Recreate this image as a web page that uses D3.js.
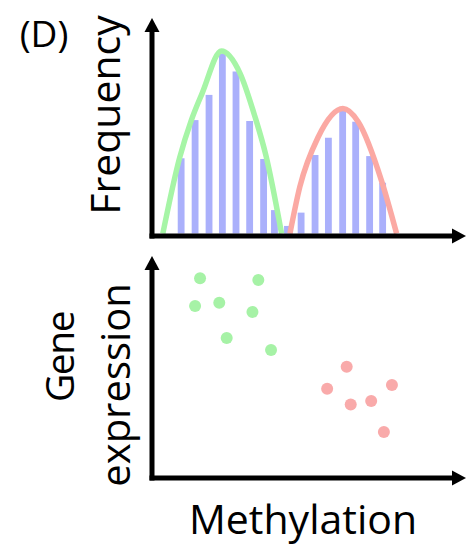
<!DOCTYPE html>
<html lang="en">
<head>
  <meta charset="UTF-8">
  <title>Methylation vs expression</title>
  <script src="https://d3js.org/d3.v7.min.js"></script>
  <style>
    body { margin: 0; background: #fff; }
    svg { display: block; }
    text { font-family: "Open Sans", sans-serif; fill: #000; }
  </style>
</head>
<body>
  <svg></svg>
  <script>
    // histogram bins (methylation %, frequency)
    const binCenters = [9.4, 13.9, 18.4, 22.7, 27.1, 31.5, 36.0, 39.5, 43.7, 48.1, 52.6, 56.9, 61.5, 65.7, 70.2, 74.4];
    const binFreq = [41.8, 63, 77, 100, 90, 62.5, 41.4, 13, 4.2, 11.6, 43.6, 53.2, 68.2, 62.1, 43, 28.2];

    // fitted curves
    const greenCurve = [[3.5, 0], [8.9, 42], [12.7, 63], [16.2, 78], [22.4, 101.4], [28.4, 89], [33.2, 65], [36.8, 43], [41.8, 0]];
    const redCurve = [[44.5, 0], [47.7, 26], [53.5, 53.2], [61.6, 69.4], [66.5, 62.1], [74.1, 29], [78.9, 0]];

    // scatter: methylation vs gene expression
    const greenX = [15.5, 34.3, 13.9, 21.7, 32.4, 24.1, 38.4];
    const greenY = [89.4, 88.6, 76.8, 78.3, 74.1, 62.3, 56.8];
    const redX = [62.8, 56.5, 77.4, 64.1, 70.7, 74.8];
    const redY = [49.2, 39.2, 40.9, 32.0, 33.6, 19.5];

    const W = 466, H = 545;
    const svg = d3.select('svg').attr('width', W).attr('height', H);

    const x = d3.scaleLinear().domain([0, 100]).range([152, 462]);
    const yF = d3.scaleLinear().domain([0, 100]).range([233.5, 53.5]);
    const yG = d3.scaleLinear().domain([0, 100]).range([475, 255]);

    // bars
    const bw = x(2.2) - x(0);
    svg.append('g').selectAll('rect')
      .data(binCenters)
      .join('rect')
      .attr('x', d => x(d) - bw / 2)
      .attr('y', (d, i) => yF(binFreq[i]))
      .attr('width', bw)
      .attr('height', (d, i) => yF(0) - yF(binFreq[i]))
      .attr('fill', '#aab0fb');

    // curves
    const line = d3.line()
      .x(d => x(d[0]))
      .y(d => yF(d[1]))
      .curve(d3.curveMonotoneX);

    svg.append('path').datum(greenCurve)
      .attr('d', line).attr('fill', 'none')
      .attr('stroke', '#a6f5a6').attr('stroke-width', 5.5);
    svg.append('path').datum(redCurve)
      .attr('d', line).attr('fill', 'none')
      .attr('stroke', '#fba9a3').attr('stroke-width', 5.5);

    // scatter
    svg.append('g').selectAll('circle')
      .data(greenX)
      .join('circle')
      .attr('cx', d => x(d))
      .attr('cy', (d, i) => yG(greenY[i]))
      .attr('r', 6)
      .attr('fill', '#a6f2a6');
    svg.append('g').selectAll('circle')
      .data(redX)
      .join('circle')
      .attr('cx', d => x(d))
      .attr('cy', (d, i) => yG(redY[i]))
      .attr('r', 6)
      .attr('fill', '#f9aaaa');

    // axes with arrow heads
    function arrowLine(x1, y1, x2, y2) {
      const ang = Math.atan2(y2 - y1, x2 - x1);
      const len = 14, hw = 7.5;
      const bx = x2 - len * Math.cos(ang), by = y2 - len * Math.sin(ang);
      svg.append('line')
        .attr('x1', x1).attr('y1', y1)
        .attr('x2', x2 - (len - 3) * Math.cos(ang)).attr('y2', y2 - (len - 3) * Math.sin(ang))
        .attr('stroke', '#000').attr('stroke-width', 5);
      svg.append('path')
        .attr('d', `M${x2},${y2}L${bx - hw * Math.sin(ang)},${by + hw * Math.cos(ang)}L${bx + hw * Math.sin(ang)},${by - hw * Math.cos(ang)}Z`)
        .attr('fill', '#000');
    }

    const x0 = x(0);
    const topBase = yF(0) + 2.5;
    arrowLine(x0, topBase + 2.5, x0, 18);
    arrowLine(x0 - 2.5, topBase, 466, topBase);

    const botBase = yG(0) + 3;
    arrowLine(x0, botBase + 2.5, x0, 256);
    arrowLine(x0 - 2.5, botBase, 466, botBase);

    // labels
    svg.append('text')
      .attr('x', 44).attr('y', 47)
      .attr('text-anchor', 'middle')
      .style('font-size', '37px')
      .text('(D)');

    svg.append('text')
      .attr('transform', 'translate(120,115) rotate(-90)')
      .attr('text-anchor', 'middle')
      .style('font-size', '41px')
      .text('Frequency');

    svg.append('text')
      .attr('transform', 'translate(74,357) rotate(-90)')
      .attr('text-anchor', 'middle')
      .style('font-size', '39px')
      .style('letter-spacing', '-1.5px')
      .text('Gene');

    svg.append('text')
      .attr('transform', 'translate(130,385) rotate(-90)')
      .attr('text-anchor', 'middle')
      .style('font-size', '40px')
      .text('expression');

    svg.append('text')
      .attr('x', 303).attr('y', 534)
      .attr('text-anchor', 'middle')
      .style('font-size', '41px')
      .text('Methylation');
  </script>
</body>
</html>
